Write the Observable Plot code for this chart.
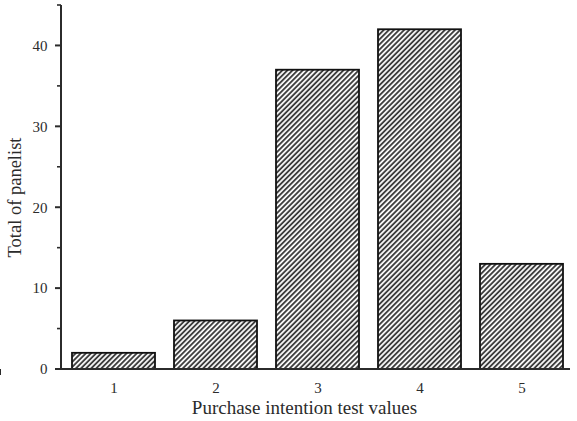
<!DOCTYPE html>
<html>
<head>
<meta charset="utf-8">
<script src="https://cdn.jsdelivr.net/npm/d3@7"></script>
<script src="https://cdn.jsdelivr.net/npm/@observablehq/plot@0.6"></script>
<style>
  html, body { margin: 0; padding: 0; background: #fff; overflow: hidden; }
  #chart { width: 577px; height: 421px; }
</style>
</head>
<body>
<div id="chart"></div>
<script>
const categories = ["1", "2", "3", "4", "5"];
const panelists = [2, 6, 37, 42, 13];
const yMajorTicks = [0, 10, 20, 30, 40];
const yMinorTicks = [5, 15, 25, 35, 45];
const xTitle = "Purchase intention test values";
const yTitle = "Total of panelist";

const data = categories.map((c, i) => ({category: c, value: panelists[i]}));
const ink = "#2b2b2b";
const font = "'Liberation Serif', 'DejaVu Serif', serif";

function hatchDefs() {
  const g = d3.create("svg:g");
  const p = g.append("defs").append("pattern")
    .attr("id", "hatch")
    .attr("patternUnits", "userSpaceOnUse")
    .attr("width", 3.6).attr("height", 3.6)
    .attr("patternTransform", "rotate(45)");
  p.append("rect").attr("width", 3.6).attr("height", 3.6).attr("fill", "#fff");
  p.append("line").attr("x1", 1).attr("x2", 1).attr("y1", 0).attr("y2", 3.6)
    .attr("stroke", "#333").attr("stroke-width", 1.8);
  return g.node();
}

function axisFrame(index, scales, values, dims) {
  const g = d3.create("svg:g").attr("stroke", ink).attr("fill", "none");
  const y = scales.y, x = scales.x;
  const left = dims.marginLeft - 1;
  const right = dims.width - dims.marginRight - 2;
  g.append("line").attr("x1", left).attr("x2", left)
    .attr("y1", y(45)).attr("y2", y(0)).attr("stroke-width", 2);
  g.append("line").attr("x1", left - 1).attr("x2", right)
    .attr("y1", y(0)).attr("y2", y(0)).attr("stroke-width", 2);
  for (const t of yMajorTicks) {
    g.append("line").attr("x1", left - 6).attr("x2", left)
      .attr("y1", y(t)).attr("y2", y(t)).attr("stroke-width", 2);
  }
  for (const t of yMinorTicks) {
    g.append("line").attr("x1", left - 4).attr("x2", left)
      .attr("y1", y(t)).attr("y2", y(t)).attr("stroke-width", 1.6);
  }
  const bw = x.bandwidth || 0;
  const centers = categories.map(c => x(c) + bw / 2);
  const step = centers[1] - centers[0];
  for (const c of centers) {
    g.append("line").attr("x1", c).attr("x2", c)
      .attr("y1", y(0)).attr("y2", y(0) + 6).attr("stroke-width", 2);
  }
  const bounds = centers.map(c => c + step / 2);
  for (const b of bounds) {
    g.append("line").attr("x1", Math.min(b, right)).attr("x2", Math.min(b, right))
      .attr("y1", y(0)).attr("y2", y(0) + 3).attr("stroke-width", 1.6);
  }
  return g.node();
}

const plot = Plot.plot({
  width: 577,
  height: 421,
  marginLeft: 62,
  marginRight: 5,
  marginTop: 5,
  marginBottom: 52,
  style: {fontFamily: font, color: ink, background: "#fff", overflow: "hidden"},
  x: {domain: categories, paddingInner: 0.19, paddingOuter: 0.095, axis: null},
  y: {domain: [0, 45], axis: null},
  marks: [
    hatchDefs,
    Plot.barY(data, {x: "category", y: "value", fill: "url(#hatch)", stroke: "#111", strokeWidth: 1.8}),
    axisFrame,
    Plot.text(yMajorTicks, {y: d => d, text: d => String(d), frameAnchor: "left", textAnchor: "end", dx: -15, fontSize: 15, fill: ink, fontFamily: font}),
    Plot.text(categories, {x: d => d, text: d => d, frameAnchor: "bottom", dy: 23, fontSize: 15, fill: ink, fontFamily: font}),
    Plot.text([xTitle], {frameAnchor: "bottom", dy: 44, text: d => d, fontSize: 19, fill: ink, dx: -13, fontFamily: font}),
    Plot.text([yTitle], {frameAnchor: "left", dx: -47, dy: 10, rotate: -90, textAnchor: "middle", text: d => d, fontSize: 18.5, fill: ink, fontFamily: font})
  ]
});
document.getElementById("chart").appendChild(plot);
</script>
</body>
</html>
